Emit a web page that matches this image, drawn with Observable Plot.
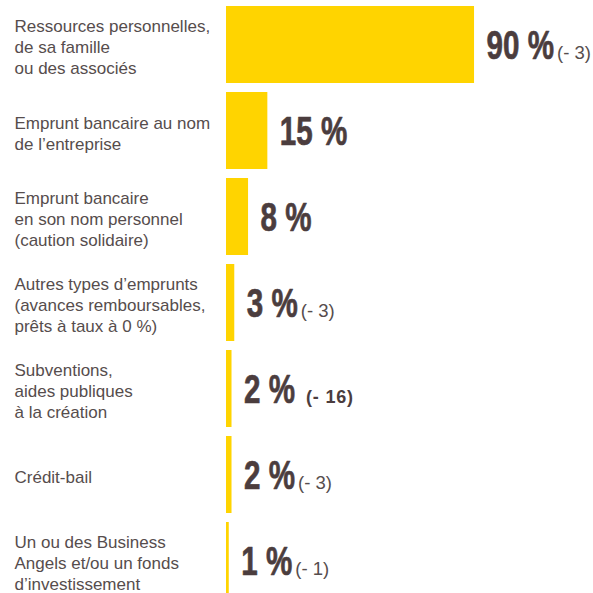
<!DOCTYPE html>
<html>
<head>
<meta charset="utf-8">
<script src="https://cdn.jsdelivr.net/npm/d3@7"></script>
<script src="https://cdn.jsdelivr.net/npm/@observablehq/plot@0.6"></script>
<style>
  html, body { margin: 0; padding: 0; background: #ffffff; }
  #chart svg { display: block; }
</style>
</head>
<body>
<div id="chart"></div>
<script>
// Categories (left labels, line breaks as in the reference)
const categories = [
  "Ressources personnelles,\nde sa famille\nou des associés",
  "Emprunt bancaire au nom\nde l’entreprise",
  "Emprunt bancaire\nen son nom personnel\n(caution solidaire)",
  "Autres types d’emprunts\n(avances remboursables,\nprêts à taux à 0 %)",
  "Subventions,\naides publiques\nà la création",
  "Crédit-bail",
  "Un ou des Business\nAngels et/ou un fonds\nd’investissement"
];
// Share of companies (%)
const values = [90, 15, 8, 3, 2, 2, 1];
// Change in points (null = not shown)
const changes = [-3, null, null, -3, -16, -3, -1];

const data = categories.map((c, i) => ({label: c, value: values[i], change: changes[i]}));
const withChange = data.filter(d => d.change != null);

const YELLOW = "#FFD400";
const DARK = "#4b3d3e";
const GREY = "#564d4d";
const SANS = "'Liberation Sans', Arial, Helvetica, sans-serif";
const CONDENSE = 0.74; // horizontal squeeze to mimic the condensed display face

const fmtChange = c => `(- ${Math.abs(c)})`;
const strong = c => c != null && Math.abs(c) >= 10;

const chart = Plot.plot({
  width: 593,
  height: 593,
  marginLeft: 226,
  marginRight: 91.4,
  marginTop: 0,
  marginBottom: 0,
  style: {fontFamily: SANS, background: "#ffffff"},
  x: {domain: [0, 100], axis: null},
  y: {type: "band", domain: categories, range: [5, 600.5], paddingInner: 0.108, paddingOuter: 0, axis: null},
  marks: [
    Plot.barX(data, {x: "value", y: "label", fill: YELLOW}),
    Plot.text(data, {
      y: "label", text: "label", frameAnchor: "left", textAnchor: "start",
      dx: -212, dy: 1.5, lineAnchor: "middle", lineHeight: 1.23,
      fontSize: 17, fill: GREY, fontFamily: SANS
    }),
    Plot.text(data, {
      x: "value", y: "label", text: d => `${d.value} %`,
      textAnchor: "start", lineAnchor: "bottom", dx: 12, dy: 14,
      fontSize: 40, fontWeight: "bold", fill: DARK, fontFamily: SANS,
      stroke: DARK, strokeWidth: 0.7
    }),
    Plot.text(withChange, {
      x: "value", y: "label", text: d => fmtChange(d.change),
      textAnchor: "start", lineAnchor: "bottom", dx: 12, dy: 14,
      fontSize: 18.5, fill: GREY, fontFamily: SANS
    })
  ]
});

document.getElementById("chart").append(chart);

// condense the big value labels and put the change annotations right after them
const textGroups = d3.select(chart).selectAll('g[aria-label="text"]').nodes();
const valueTexts = d3.select(textGroups[1]).selectAll("text").nodes();
const changeTexts = d3.select(textGroups[2]).selectAll("text").nodes();

const widths = [];
valueTexts.forEach((el, k) => {
  const t = el.getAttribute("transform") || "";
  el.setAttribute("transform", `${t} scale(${CONDENSE},1)`);
  widths[k] = el.getComputedTextLength() * CONDENSE;
});
changeTexts.forEach((el, k) => {
  const d = withChange[k];
  const w = widths[data.indexOf(d)] || 0;
  const isStrong = strong(d.change);
  el.setAttribute("dx", w + (isStrong ? 11 : 3));
  if (isStrong) {
    el.setAttribute("font-weight", "bold");
    el.setAttribute("font-size", "18");
    el.setAttribute("fill", DARK);
    el.setAttribute("letter-spacing", "0.8");
  }
});
</script>
</body>
</html>
